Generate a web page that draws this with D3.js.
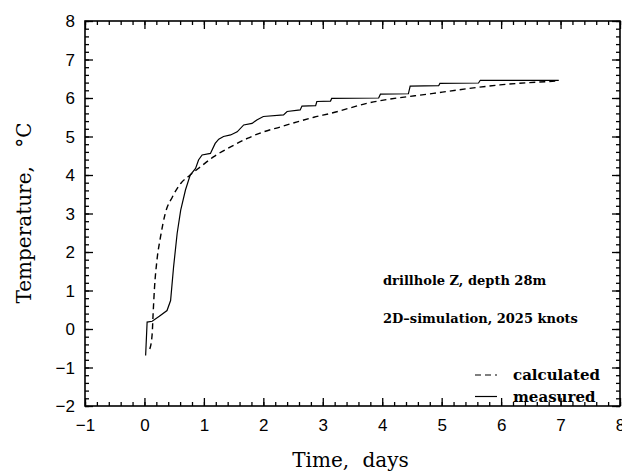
<!DOCTYPE html>
<html>
<head>
<meta charset="utf-8">
<script src="https://cdn.jsdelivr.net/npm/d3@7"></script>
<style>
  body { margin: 0; background: #fff; }
  svg { display: block; }
  .tick text { font-family: "Liberation Sans", Arial, sans-serif; font-size: 17px; fill: #000; }
  .domain { stroke: none; }
</style>
</head>
<body>
<svg id="chart" width="622" height="473"></svg>
<script>
  // measured temperature, drillhole Z at 28 m
  var measuredX = [0.02, 0.045, 0.13, 0.25, 0.38, 0.44, 0.49, 0.55, 0.61, 0.69, 0.77, 0.86, 0.91, 0.97, 1.11, 1.19, 1.25, 1.33, 1.45, 1.56, 1.67, 1.81, 1.89, 2.0, 2.34, 2.4, 2.62, 2.65, 2.88, 2.9, 3.13, 3.15, 3.94, 3.97, 4.44, 4.47, 4.95, 4.97, 5.62, 5.65, 6.97];
  var measuredY = [-0.69, 0.18, 0.2, 0.33, 0.48, 0.74, 1.61, 2.48, 3.09, 3.61, 4.0, 4.17, 4.39, 4.52, 4.56, 4.82, 4.93, 5.0, 5.04, 5.12, 5.3, 5.34, 5.43, 5.52, 5.56, 5.65, 5.69, 5.79, 5.8, 5.91, 5.92, 5.99, 6.0, 6.1, 6.11, 6.31, 6.32, 6.38, 6.39, 6.46, 6.46];
  // simulated (2D, 2025 knots)
  var calcX = [0.09, 0.13, 0.146, 0.17, 0.21, 0.27, 0.35, 0.47, 0.61, 0.77, 0.94, 1.16, 1.45, 1.73, 2.0, 2.29, 2.57, 2.85, 3.13, 3.74, 4.86, 5.98, 6.94];
  var calcY = [-0.52, -0.13, 0.4, 1.09, 1.78, 2.39, 3.0, 3.43, 3.78, 4.0, 4.21, 4.47, 4.73, 4.95, 5.12, 5.25, 5.38, 5.5, 5.6, 5.86, 6.12, 6.34, 6.44];

  var xTicks = [-1, 0, 1, 2, 3, 4, 5, 6, 7, 8];
  var yTicks = [-2, -1, 0, 1, 2, 3, 4, 5, 6, 7, 8];

  var svg = d3.select('#chart');
  var margin = {top: 21, right: 2, bottom: 67, left: 85};
  var w = 622 - margin.left - margin.right;
  var h = 473 - margin.top - margin.bottom;

  var x = d3.scaleLinear().domain([-1, 8]).range([0, w]);
  var y = d3.scaleLinear().domain([-2, 8]).range([h, 0]);

  var g = svg.append('g')
    .attr('transform', 'translate(' + margin.left + ',' + margin.top + ')');

  var minorX = d3.range(-1, 8.001, 0.2);
  var minorY = d3.range(-2, 8.001, 0.2);
  var fmt = function(d) { return d < 0 ? '\u2212' + Math.abs(d) : d; };

  function ticks(axis, tr, vals, size, labels) {
    var a = g.append('g').attr('transform', tr)
      .call(axis.tickValues(vals).tickSizeInner(-size).tickSizeOuter(0)
        .tickFormat(labels ? fmt : ''));
    a.selectAll('line').attr('stroke', '#000').attr('stroke-width', 1.3);
    return a;
  }

  // minor ticks on all four sides
  ticks(d3.axisBottom(x), 'translate(0,' + h + ')', minorX, 4, false);
  ticks(d3.axisTop(x), 'translate(0,0)', minorX, 4, false);
  ticks(d3.axisLeft(y), 'translate(0,0)', minorY, 4, false);
  ticks(d3.axisRight(y), 'translate(' + w + ',0)', minorY, 4, false);

  // major ticks
  ticks(d3.axisBottom(x), 'translate(0,' + h + ')', xTicks, 8, true)
    .selectAll('text').attr('dy', '0.95em').attr('y', 9);
  ticks(d3.axisTop(x), 'translate(0,0)', xTicks, 8, false);
  ticks(d3.axisLeft(y), 'translate(0,0)', yTicks, 8, true)
    .selectAll('text').attr('x', -10).attr('dy', '0.35em');
  ticks(d3.axisRight(y), 'translate(' + w + ',0)', yTicks, 8, false);

  g.append('rect')
    .attr('width', w).attr('height', h)
    .attr('fill', 'none').attr('stroke', '#000').attr('stroke-width', 1.6);

  var line = d3.line()
    .x(function(d) { return x(d[0]); })
    .y(function(d) { return y(d[1]); });

  g.append('path')
    .datum(d3.zip(calcX, calcY))
    .attr('d', line.curve(d3.curveMonotoneX))
    .attr('fill', 'none').attr('stroke', '#000').attr('stroke-width', 1.4)
    .attr('stroke-dasharray', '6,4');

  g.append('path')
    .datum(d3.zip(measuredX, measuredY))
    .attr('d', line.curve(d3.curveLinear))
    .attr('fill', 'none').attr('stroke', '#000').attr('stroke-width', 1.2);

  // annotations
  var serif = '"DejaVu Serif", "Liberation Serif", serif';
  g.append('text').attr('x', 298).attr('y', 264)
    .attr('font-family', serif).attr('font-weight', 'bold').attr('font-size', 13)
    .text('drillhole Z, depth 28m');
  g.append('text').attr('x', 298).attr('y', 302)
    .attr('font-family', serif).attr('font-weight', 'bold').attr('font-size', 13)
    .text('2D\u2013simulation, 2025 knots');

  // legend
  var legend = g.append('g').attr('transform', 'translate(390,354)');
  var items = [['calculated', '6,4'], ['measured', null]];
  items.forEach(function(it, i) {
    var row = legend.append('g').attr('transform', 'translate(0,' + (i * 21.5) + ')');
    row.append('line').attr('x1', 0).attr('x2', 22).attr('y1', 0).attr('y2', 0)
      .attr('stroke', '#000').attr('stroke-width', 1.2)
      .attr('stroke-dasharray', it[1]);
    row.append('text').attr('x', 38).attr('y', 5)
      .attr('font-family', serif).attr('font-weight', 'bold').attr('font-size', 15)
      .text(it[0]);
  });

  // axis titles
  svg.append('text')
    .attr('x', margin.left + x(3.5) - 2).attr('y', 467)
    .attr('text-anchor', 'middle')
    .attr('font-family', serif).attr('font-size', 20)
    .attr('word-spacing', 7)
    .text('Time, days');
  svg.append('text')
    .attr('transform', 'translate(31,' + 213 + ') rotate(-90)')
    .attr('text-anchor', 'middle')
    .attr('font-family', serif).attr('font-size', 20)
    .attr('word-spacing', 12)
    .text('Temperature, \u00b0C');
</script>
</body>
</html>
